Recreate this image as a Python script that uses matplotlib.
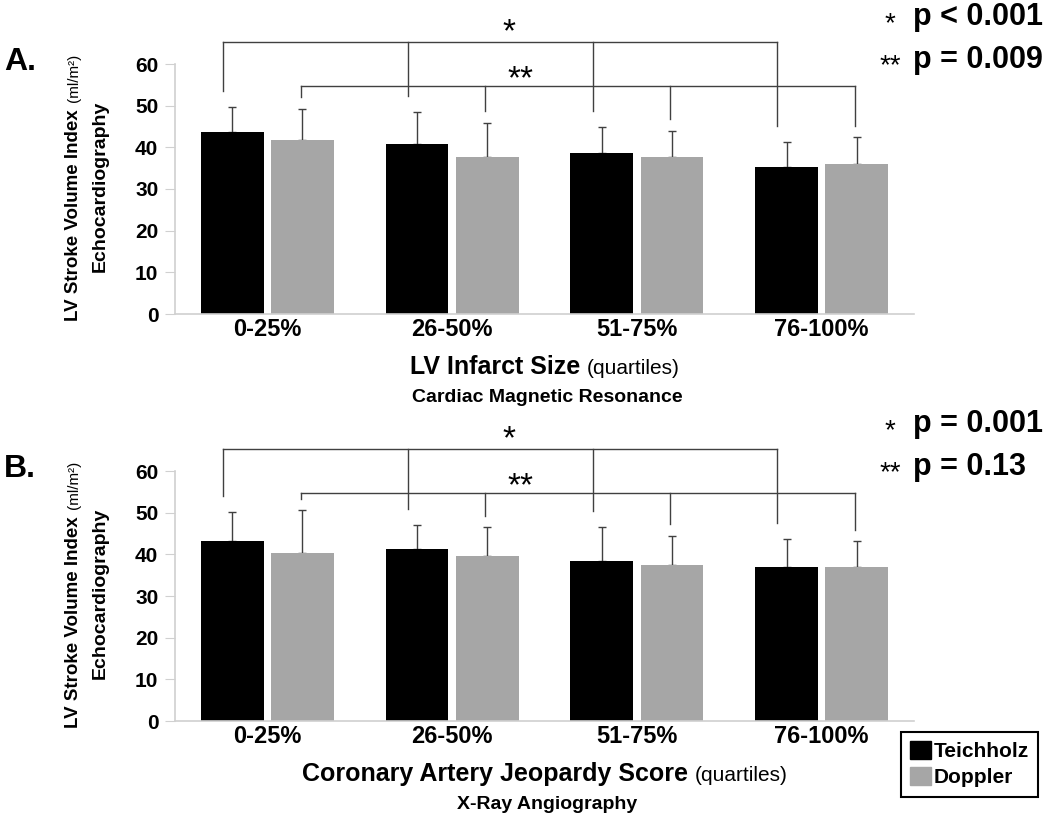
import numpy as np
import matplotlib
matplotlib.use("Agg")
import matplotlib.pyplot as plt
from matplotlib.patches import Patch

plt.rcParams['font.family'] = ['Liberation Sans', 'DejaVu Sans']

# datos
quartiles = ['0-25%', '26-50%', '51-75%', '76-100%']
series = ['Teichholz', 'Doppler']
colores = ['#000000', '#a6a6a6']

# Panel A: LV Infarct Size (CMR)
a_teich = [43.6, 40.8, 38.6, 35.3]
a_teich_sd = [6.1, 7.7, 6.2, 5.9]
a_doppler = [41.7, 37.7, 37.7, 35.9]
a_doppler_sd = [7.5, 8.1, 6.2, 6.5]
a_p = ['p < 0.001', 'p = 0.009']

# Panel B: Coronary Artery Jeopardy Score
b_teich = [43.1, 41.4, 38.3, 37.0]
b_teich_sd = [7.0, 5.6, 8.2, 6.8]
b_doppler = [40.4, 39.7, 37.5, 37.0]
b_doppler_sd = [10.2, 6.8, 7.0, 6.1]
b_p = ['p = 0.001', 'p = 0.13']

W, H = 1050, 813


def fx(px):
    return px / W


def fy(py):
    return 1 - py / H


fig = plt.figure(figsize=(10.5, 8.13), dpi=100)


def panel(top, letra, teich, teich_sd, dop, dop_sd, pvals, xlab, sub):
    bottom = top + 250
    ax = fig.add_axes([fx(175), fy(bottom), (914 - 175) / W, 250 / H])
    x = np.arange(len(quartiles))
    off, ancho = 0.19, 0.34
    for k, (vals, sd) in enumerate([(teich, teich_sd), (dop, dop_sd)]):
        pos = x - off if k == 0 else x + off
        ax.bar(pos, vals, ancho, color=colores[k], zorder=2)
        ax.errorbar(pos, vals, yerr=[np.zeros(len(vals)), sd], fmt='none',
                    ecolor='#404040', elinewidth=1, capsize=3, capthick=1, zorder=1)
    ax.set_xlim(-0.5, 3.5)
    ax.set_ylim(0, 60)
    ax.set_yticks(range(0, 61, 10))
    ax.set_xticks(x)
    ax.set_xticklabels(quartiles, fontsize=17, fontweight='bold')
    for lab in ax.get_yticklabels():
        lab.set_fontweight('bold')
    ax.tick_params(axis='y', labelsize=15, length=7, color='#d0d0d0', pad=5)
    ax.tick_params(axis='x', length=0, pad=3)
    for s in ['top', 'right']:
        ax.spines[s].set_visible(False)
    for s in ['left', 'bottom']:
        ax.spines[s].set_color('#d0d0d0')
        ax.spines[s].set_linewidth(1.2)

    # corchetes de significancia
    t_top = np.array(teich) + np.array(teich_sd)
    d_top = np.array(dop) + np.array(dop_sd)
    brackets = [(x - 0.24, t_top + 3.8, 65.2, '*', 1.31, 67.5),
                (x + 0.18, d_top + 2.8, 54.8, '**', 1.37, 56.3)]
    for xs, ends, yb, star, sx, sy in brackets:
        ax.plot([xs[0], xs[-1]], [yb, yb], color='#404040', lw=1, clip_on=False)
        for xi, ye in zip(xs, ends):
            ax.plot([xi, xi], [yb, ye], color='#404040', lw=1, clip_on=False)
        ax.text(sx, sy, star, ha='center', va='center', fontsize=24, clip_on=False)

    # textos de la figura
    fig.text(fx(4), fy(top - 2), letra, fontsize=23, fontweight='bold', va='center')
    fig.text(fx(73), fy(top + 151), 'LV Stroke Volume Index', rotation=90,
             fontsize=13.5, fontweight='bold', ha='center', va='center')
    fig.text(fx(74), fy(top + 14), '(ml/m²)', rotation=90,
             fontsize=11, ha='center', va='center')
    fig.text(fx(100), fy(top + 122), 'Echocardiography', rotation=90,
             fontsize=14, fontweight='bold', ha='center', va='center')

    fig.text(fx(890), fy(top - 40), '*', fontsize=20, ha='center', va='center')
    fig.text(fx(890), fy(top + 2), '**', fontsize=20, ha='center', va='center')
    fig.text(fx(913), fy(top - 39), pvals[0], fontsize=22, fontweight='bold', ha='left', va='baseline')
    fig.text(fx(913), fy(top + 4), pvals[1], fontsize=22, fontweight='bold', ha='left', va='baseline')

    # titulo del eje x: parte en negrita + "(quartiles)" normal
    t1 = fig.text(0, 0, xlab + ' ', fontsize=18, fontweight='bold', va='center')
    t2 = fig.text(0, 0, '(quartiles)', fontsize=15, va='center')
    fig.text(fx(547), fy(bottom + 83), sub, fontsize=14, fontweight='bold',
             ha='center', va='center')
    return t1, t2, bottom


partes = [panel(64, 'A.', a_teich, a_teich_sd, a_doppler, a_doppler_sd, a_p,
                'LV Infarct Size', 'Cardiac Magnetic Resonance'),
          panel(471, 'B.', b_teich, b_teich_sd, b_doppler, b_doppler_sd, b_p,
                'Coronary Artery Jeopardy Score', 'X-Ray Angiography')]

fig.canvas.draw()
r = fig.canvas.get_renderer()
for t1, t2, bottom in partes:
    w1 = t1.get_window_extent(r).width
    w2 = t2.get_window_extent(r).width
    x0 = 545 - (w1 + w2) / 2
    t1.set_position((fx(x0), fy(bottom + 53)))
    t2.set_position((fx(x0 + w1), fy(bottom + 54)))

handles = [Patch(color=c) for c in colores]
fig.legend(handles, series, loc='upper left', bbox_to_anchor=(fx(901), fy(732)),
           frameon=True, fancybox=False, edgecolor='black', framealpha=1,
           prop={'weight': 'bold', 'size': 15},
           handlelength=1.0, handleheight=0.9, handletextpad=0.1, labelspacing=0.3,
           borderpad=0.45, borderaxespad=0)
fig.legends[0].get_frame().set_linewidth(1.5)

fig.savefig('out.png', dpi=100)
